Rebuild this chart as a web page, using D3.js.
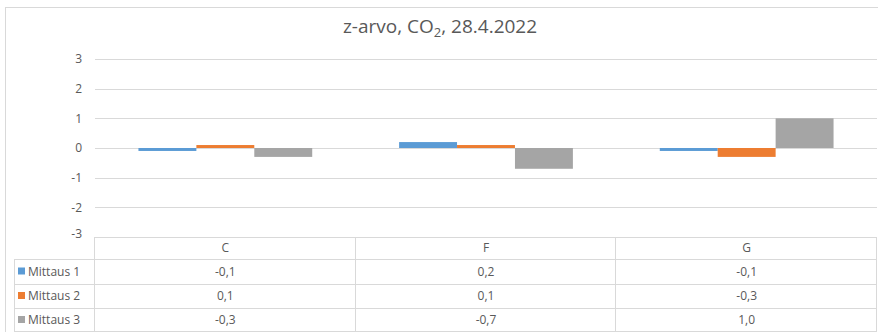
<!DOCTYPE html>
<html>
<head>
<meta charset="utf-8">
<script src="https://cdn.jsdelivr.net/npm/d3@7"></script>
<style>
  html, body { margin: 0; padding: 0; background: #fff; }
  svg { display: block; font-family: "Open Sans", "Noto Sans", sans-serif; }
</style>
</head>
<body>
<svg id="chart" width="878" height="332"></svg>
<script>
// Measurement points and series
const categories = ["C", "F", "G"];
const seriesNames = ["Mittaus 1", "Mittaus 2", "Mittaus 3"];
const mittaus1 = [-0.1, 0.2, -0.1];
const mittaus2 = [0.1, 0.1, -0.3];
const mittaus3 = [-0.3, -0.7, 1.0];
const yTicks = [3, 2, 1, 0, -1, -2, -3];
const colors = ["#5b9bd5", "#ed7d31", "#a5a5a5"];

const series = [mittaus1, mittaus2, mittaus3];

(function draw() {
  const svg = d3.select("#chart");
  const W = 878, H = 332;
  const plotLeft = 95, plotRight = 877, plotTop = 59, plotBottom = 237;
  const textColor = "#595959";
  const gridColor = "#d9d9d9";

  // Chart frame
  svg.append("rect")
    .attr("x", 5.5).attr("y", 7.5)
    .attr("width", W + 10).attr("height", H + 10)
    .attr("fill", "#fff").attr("stroke", gridColor);

  // Title with subscript
  const title = svg.append("text")
    .attr("x", 440).attr("y", 33)
    .attr("text-anchor", "middle")
    .attr("fill", textColor)
    .attr("font-size", 19);
  title.append("tspan").text("z-arvo, CO");
  title.append("tspan").attr("font-size", 13).attr("dy", 4).text("2");
  title.append("tspan").attr("dy", -4).text(", 28.4.2022");

  const y = d3.scaleLinear().domain([-3, 3]).range([plotBottom, plotTop]);
  const x0 = d3.scaleBand().domain(categories).range([plotLeft, plotRight]);
  const x1 = d3.scaleBand().domain(d3.range(series.length))
    .range([0, x0.bandwidth()]).paddingOuter(0.75);

  // Horizontal gridlines
  svg.append("g").selectAll("line")
    .data(yTicks.filter(t => t !== -3))
    .join("line")
    .attr("x1", plotLeft).attr("x2", plotRight)
    .attr("y1", d => Math.round(y(d)) + 0.5)
    .attr("y2", d => Math.round(y(d)) + 0.5)
    .attr("stroke", gridColor);

  // Value axis labels (plain hyphen for negatives)
  const yAxis = d3.axisLeft(y).tickValues(yTicks).tickSize(0).tickPadding(0)
    .tickFormat(d => String(d));
  const ya = svg.append("g").attr("transform", "translate(82,0)").call(yAxis);
  ya.select(".domain").remove();
  ya.selectAll("text")
    .attr("fill", textColor)
    .attr("font-size", 12)
    .attr("font-family", "\"Open Sans\", sans-serif")
    .attr("dy", d => d === -3 ? "0.05em" : "0.32em");

  // Bars
  const groups = svg.append("g").selectAll("g")
    .data(categories)
    .join("g")
    .attr("transform", d => `translate(${x0(d)},0)`);
  groups.selectAll("rect")
    .data((d, i) => series.map((s, k) => ({ k, v: s[i] })))
    .join("rect")
    .attr("x", d => x1(d.k))
    .attr("width", x1.bandwidth())
    .attr("y", d => y(Math.max(0, d.v)))
    .attr("height", d => Math.abs(y(d.v) - y(0)))
    .attr("fill", d => colors[d.k]);

  // Data table below the plot
  const rowTops = [237, 259, 284, 308, 332];
  const legendLeft = 14;
  const table = svg.append("g").attr("stroke", gridColor).attr("fill", "none");
  table.append("line").attr("x1", plotLeft).attr("x2", plotRight)
    .attr("y1", rowTops[0] + 0.5).attr("y2", rowTops[0] + 0.5);
  rowTops.slice(1, 4).forEach(r => {
    table.append("line").attr("x1", legendLeft).attr("x2", plotRight)
      .attr("y1", r + 0.5).attr("y2", r + 0.5);
  });
  table.append("line").attr("x1", legendLeft).attr("x2", plotRight)
    .attr("y1", 331.5).attr("y2", 331.5);
  [plotLeft, ...categories.map(c => x0(c) + x0.bandwidth())].forEach(xx => {
    table.append("line")
      .attr("x1", Math.round(xx) - 0.5).attr("x2", Math.round(xx) - 0.5)
      .attr("y1", rowTops[0]).attr("y2", H);
  });
  table.append("line").attr("x1", legendLeft + 0.5).attr("x2", legendLeft + 0.5)
    .attr("y1", rowTops[1]).attr("y2", H);

  // Category headers
  svg.append("g").selectAll("text")
    .data(categories)
    .join("text")
    .attr("x", d => x0(d) + x0.bandwidth() / 2)
    .attr("y", (rowTops[0] + rowTops[1]) / 2)
    .attr("dy", "0.35em")
    .attr("text-anchor", "middle")
    .attr("fill", textColor)
    .attr("font-size", 12)
    .text(d => d);

  // Legend keys, row names and table values
  const fmt = v => d3.format(".1f")(v).replace(".", ",").replace("\u2212", "-");
  seriesNames.forEach((name, k) => {
    const cy = (rowTops[k + 1] + rowTops[k + 2]) / 2;
    svg.append("rect")
      .attr("x", 18).attr("y", cy - 4)
      .attr("width", 7).attr("height", 7)
      .attr("fill", colors[k]);
    svg.append("text")
      .attr("x", 28).attr("y", cy)
      .attr("dy", "0.35em")
      .attr("fill", textColor)
      .attr("font-size", 12)
      .text(name);
    svg.append("g").selectAll("text")
      .data(categories)
      .join("text")
      .attr("x", d => x0(d) + x0.bandwidth() / 2)
      .attr("y", cy)
      .attr("dy", "0.35em")
      .attr("text-anchor", "middle")
      .attr("fill", textColor)
      .attr("font-size", 12)
      .text((d, i) => fmt(series[k][i]));
  });
})();
</script>
</body>
</html>
